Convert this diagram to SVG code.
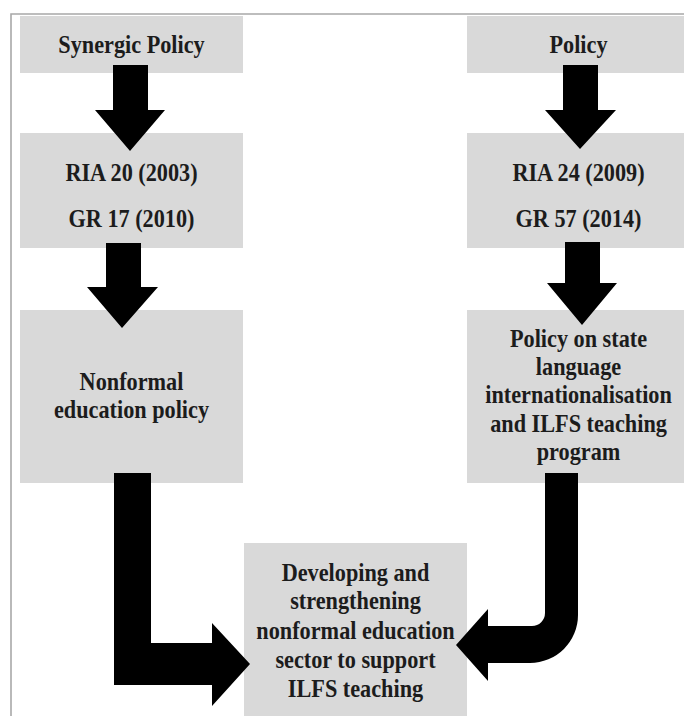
<svg xmlns="http://www.w3.org/2000/svg" width="684" height="716" viewBox="0 0 684 716">
<style>
.box{fill:#d9d9d9;}
.t{font-weight:bold;font-size:25px;fill:#1c1c1c;text-anchor:middle;}
.arr{fill:#000;}
</style>
<rect x="0" y="0" width="684" height="716" fill="#fff"/>
<path d="M11,716 L11,14 L684,14" fill="none" stroke="#a8a8a8" stroke-width="1.6"/>
<g font-family="Liberation Serif, Times New Roman, Times, serif">
<g id="node-synergic">
<rect class="box" x="20" y="16" width="223" height="57"/>
<text class="t" transform="translate(131.5,53) scale(0.89,1)">Synergic Policy</text>
</g>
<g id="node-policy">
<rect class="box" x="467" y="16" width="223" height="57"/>
<text class="t" transform="translate(578.5,53) scale(0.89,1)">Policy</text>
</g>
<g id="node-ria20">
<rect class="box" x="20" y="133" width="223" height="115"/>
<text class="t" transform="translate(131.5,181) scale(0.89,1)">RIA 20 (2003)</text>
<text class="t" transform="translate(131.5,227) scale(0.89,1)">GR 17 (2010)</text>
</g>
<g id="node-ria24">
<rect class="box" x="467" y="133" width="223" height="115"/>
<text class="t" transform="translate(578.5,181) scale(0.89,1)">RIA 24 (2009)</text>
<text class="t" transform="translate(578.5,227) scale(0.89,1)">GR 57 (2014)</text>
</g>
<g id="node-nonformal">
<rect class="box" x="20" y="310" width="223" height="173"/>
<text class="t" transform="translate(131.5,390) scale(0.89,1)">Nonformal</text>
<text class="t" transform="translate(131.5,418) scale(0.89,1)">education policy</text>
</g>
<g id="node-state-language">
<rect class="box" x="467" y="310" width="223" height="173"/>
<text class="t" transform="translate(578.5,347) scale(0.89,1)">Policy on state</text>
<text class="t" transform="translate(578.5,375) scale(0.89,1)">language</text>
<text class="t" transform="translate(578.5,403) scale(0.89,1)">internationalisation</text>
<text class="t" transform="translate(578.5,432) scale(0.89,1)">and ILFS teaching</text>
<text class="t" transform="translate(578.5,460) scale(0.89,1)">program</text>
</g>
<g id="node-developing">
<rect class="box" x="244" y="543" width="223" height="180"/>
<text class="t" transform="translate(355.5,581) scale(0.89,1)">Developing and</text>
<text class="t" transform="translate(355.5,609) scale(0.89,1)">strengthening</text>
<text class="t" transform="translate(355.5,639) scale(0.89,1)">nonformal education</text>
<text class="t" transform="translate(355.5,668) scale(0.89,1)">sector to support</text>
<text class="t" transform="translate(355.5,697) scale(0.89,1)">ILFS teaching</text>
</g>
</g>
<g id="connectors">
<path class="arr" d="M113,65 L148,65 L148,110 L165,110 L130,151 L95,110 L113,110 Z"/>
<path class="arr" d="M563,65 L598,65 L598,110 L616,110 L580,149 L545,110 L563,110 Z"/>
<path class="arr" d="M106,243 L141,243 L141,287 L158,287 L122,328 L87,287 L106,287 Z"/>
<path class="arr" d="M565,242 L600,242 L600,283 L617,283 L582,325 L547,283 L565,283 Z"/>
<path class="arr" d="M114,473 L151,473 L151,643 L212,643 L212,623 L250,664 L212,706 L212,685 L114,685 Z"/>
<path class="arr" d="M545,473 L578,473 L578,615 A48,48 0 0 1 530,663 L488,663 L488,681 L456,645 L488,609 L488,626 L532,626 A13,13 0 0 0 545,613 Z"/>
</g>
</svg>
